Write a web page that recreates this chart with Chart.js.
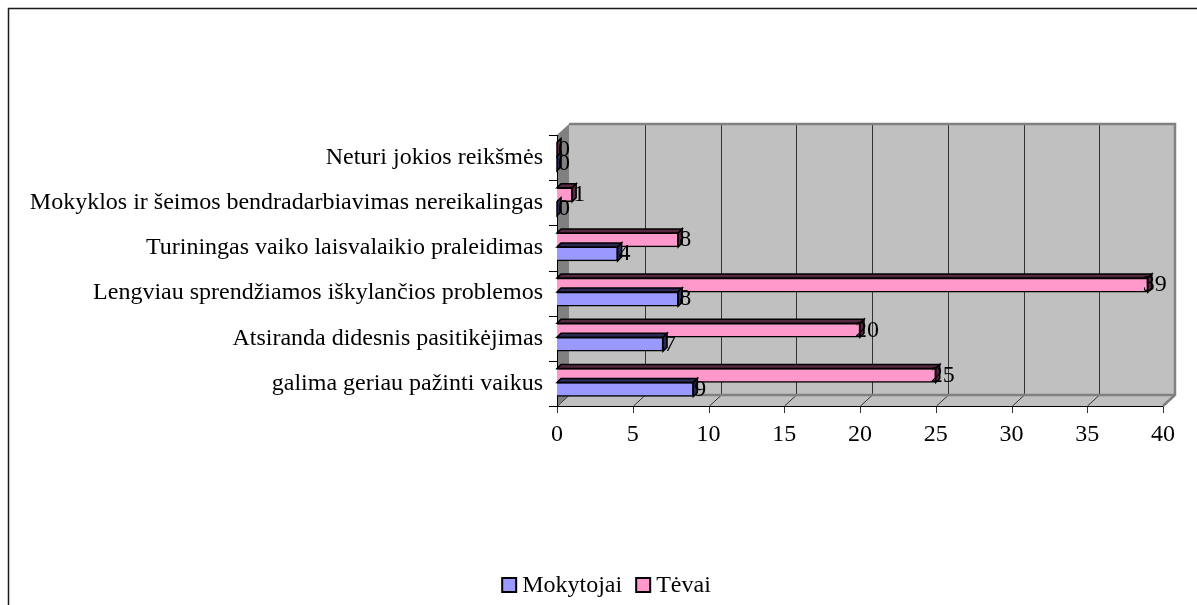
<!DOCTYPE html>
<html><head><meta charset="utf-8">
<script src="https://cdn.jsdelivr.net/npm/chart.js@4"></script>
<style>html,body{margin:0;padding:0;background:#fff}#c{display:block}</style>
</head><body>
<canvas id="c" width="1197" height="605"></canvas>
<script>
const categories = ["galima geriau pažinti vaikus","Atsiranda didesnis pasitikėjimas","Lengviau sprendžiamos iškylančios problemos","Turiningas vaiko laisvalaikio praleidimas","Mokyklos ir šeimos bendradarbiavimas nereikalingas","Neturi jokios reikšmės"];
const mokytojai = [9,7,8,4,0,0];
const tevai = [25,20,39,8,1,0];
const xTickValues = [0,5,10,15,20,25,30,35,40];
const legendOrder = ['Mokytojai','Tėvai'];

const FONT = "'Liberation Serif','Times New Roman',serif";
const FS = 24;
const DX = 12, DY = -11, BD = 4;

function poly(ctx, pts){ctx.beginPath();ctx.moveTo(pts[0],pts[1]);for(let i=2;i<pts.length;i+=2)ctx.lineTo(pts[i],pts[i+1]);ctx.closePath();}

const excel3d = {
  id:'excel3d',
  beforeDraw(chart){
    const ctx = chart.ctx, a = chart.chartArea, x = chart.scales.x;
    const L=a.left,R=a.right,T=a.top,B=a.bottom;
    ctx.save();
    ctx.fillStyle='#fff';ctx.fillRect(0,0,chart.width,chart.height);
    ctx.strokeStyle='#1a1a1a';ctx.lineWidth=1.5;
    ctx.beginPath();ctx.moveTo(8.5,chart.height);ctx.lineTo(8.5,8.5);ctx.lineTo(chart.width,8.5);ctx.stroke();
    ctx.fillStyle='#c0c0c0';ctx.fillRect(L+DX,T+DY,R-L,B-T);
    poly(ctx,[L,B,L+DX,B+DY,R+DX,B+DY,R,B]);ctx.fillStyle='#c0c0c0';ctx.fill();
    poly(ctx,[L,T,L+DX,T+DY,L+DX,B+DY,L,B]);ctx.fillStyle='#808080';ctx.fill();
    ctx.strokeStyle='#333';ctx.lineWidth=1;
    xTickValues.forEach(v=>{
      const px=Math.round(x.getPixelForValue(v))+0.5;
      if(v>0 && v<40){ctx.beginPath();ctx.moveTo(px+DX,T+DY);ctx.lineTo(px+DX,B+DY);ctx.stroke();}
      ctx.beginPath();ctx.moveTo(px,B);ctx.lineTo(px+DX,B+DY);ctx.stroke();
      ctx.beginPath();ctx.moveTo(px,B);ctx.lineTo(px,B+7);ctx.stroke();
    });
    ctx.strokeStyle='#808080';ctx.lineWidth=2.5;
    ctx.beginPath();ctx.moveTo(L+DX,T+DY);ctx.lineTo(R+DX,T+DY);ctx.lineTo(R+DX,B+DY);ctx.lineTo(R,B);ctx.stroke();
    ctx.beginPath();ctx.moveTo(L+DX,B+DY);ctx.lineTo(R+DX,B+DY);ctx.stroke();
    ctx.strokeStyle='#000';ctx.lineWidth=1;
    ctx.beginPath();ctx.moveTo(L+0.5,T);ctx.lineTo(L+0.5,B+0.5);ctx.lineTo(R,B+0.5);ctx.stroke();
    const n=categories.length;
    for(let i=0;i<=n;i++){
      const py=Math.round(T+(B-T)*i/n)+0.5;
      ctx.beginPath();ctx.moveTo(L-8,py);ctx.lineTo(L,py);ctx.stroke();
    }
    ctx.restore();
  },
  beforeDatasetsDraw(chart){chart.ctx.save();chart.ctx.translate(0,-1);},
  afterDatasetsDraw(chart){
    const ctx=chart.ctx;
    const darks={'Mokytojai':'#2a2a55','Tėvai':'#552a40'};
    chart.data.datasets.forEach((ds,di)=>{
      const meta=chart.getDatasetMeta(di);
      meta.data.forEach((el,i)=>{
        const p=el.getProps(['x','y','base','height'],true);
        const top=p.y-p.height/2, bot=p.y+p.height/2;
        ctx.lineWidth=1.5;ctx.strokeStyle='#000';ctx.fillStyle=darks[ds.label];
        poly(ctx,[p.base,top,p.base+BD,top-BD,p.x+BD,top-BD,p.x,top]);ctx.fill();ctx.stroke();
        poly(ctx,[p.x,top,p.x+BD,top-BD,p.x+BD,bot-BD,p.x,bot]);ctx.fill();ctx.stroke();
      });
    });
    ctx.fillStyle='#000';ctx.font=FS+'px '+FONT;ctx.textAlign='center';ctx.textBaseline='middle';
    chart.data.datasets.forEach((ds,di)=>{
      const meta=chart.getDatasetMeta(di);
      meta.data.forEach((el,i)=>{
        const p=el.getProps(['x','y'],true);
        ctx.fillText(String(ds.data[i]),p.x+7,p.y);
      });
    });
    ctx.restore();
  },
  afterDraw(chart){
    const ctx=chart.ctx;
    ctx.save();
    ctx.font=FS+'px '+FONT;ctx.textBaseline='middle';ctx.textAlign='left';
    const items=legendOrder.map(l=>chart.data.datasets.find(d=>d.label===l));
    const box=14, gap=6, sep=14, cy=585;
    let total=0;
    items.forEach((d,i)=>{total+=box+gap+ctx.measureText(d.label).width+(i<items.length-1?sep:0);});
    let x0=606.5-total/2;
    items.forEach(d=>{
      ctx.fillStyle=d.backgroundColor;ctx.fillRect(x0,cy-box/2,box,box);
      ctx.strokeStyle='#000';ctx.lineWidth=2;ctx.strokeRect(x0,cy-box/2,box,box);
      ctx.fillStyle='#000';ctx.fillText(d.label,x0+box+gap,cy+1);
      x0+=box+gap+ctx.measureText(d.label).width+sep;
    });
    ctx.restore();
  }
};

new Chart(document.getElementById('c'),{
  type:'bar',
  data:{labels:categories,datasets:[
    {label:'Tėvai',data:tevai,backgroundColor:'#ff99cc',borderColor:'#000',borderWidth:1.5,barThickness:14},
    {label:'Mokytojai',data:mokytojai,backgroundColor:'#9999ff',borderColor:'#000',borderWidth:1.5,barThickness:14}
  ]},
  options:{
    indexAxis:'y',responsive:false,animation:false,
    layout:{padding:{top:135,right:34,left:0,bottom:0}},
    plugins:{tooltip:{enabled:false},legend:{display:false}},
    scales:{
      x:{min:0,max:40,ticks:{stepSize:5,font:{family:FONT,size:FS},color:'#000',padding:6},grid:{display:false},border:{display:false},
        afterFit(s){s.height=605-406;}},
      y:{reverse:true,ticks:{font:{family:FONT,size:FS},color:'#000',padding:6},grid:{display:false},border:{display:false},
        afterFit(s){s.width=557;}}
    }
  },
  plugins:[excel3d]
});
</script>
</body></html>
